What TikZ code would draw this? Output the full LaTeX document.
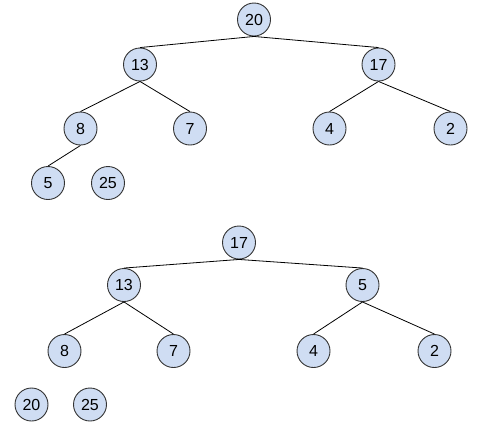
\documentclass[tikz,border=0pt]{standalone}
\usepackage{fontspec}
\setmainfont{Liberation Sans}
\definecolor{nodefill}{HTML}{CFDDF3}
\definecolor{nodeline}{HTML}{333333}
\begin{document}
\begin{tikzpicture}[x=1pt,y=-1pt,
  hnode/.style={circle,draw=nodeline,fill=nodefill,line width=0.9pt,minimum size=33pt,inner sep=0pt,font=\fontsize{16}{18}\selectfont},
  edge/.style={draw=black,line width=0.8pt}]
\useasboundingbox (0,0) rectangle (495,440);
% top tree
\node[hnode] (a20) at (254,19.5) {20};
\node[hnode] (a13) at (140,64.5) {13};
\node[hnode] (a17) at (378.5,64.5) {17};
\node[hnode] (a8) at (80.5,128.5) {8};
\node[hnode] (a7) at (190,128.5) {7};
\node[hnode] (a4) at (329.5,128.5) {4};
\node[hnode] (a2) at (450.5,128.5) {2};
\node[hnode] (a5) at (48,183) {5};
\node[hnode] (a25) at (108,183) {25};
\draw[edge] (a20.south) -- (a13.north);
\draw[edge] (a20.south) -- (a17.north);
\draw[edge] (a13.south) -- (a8.north);
\draw[edge] (a13.south) -- (a7.north);
\draw[edge] (a17.south) -- (a4.north);
\draw[edge] (a17.south) -- (a2.north);
\draw[edge] (a8.south) -- (a5.north);
% bottom tree
\node[hnode] (b17) at (239,242.5) {17};
\node[hnode] (b13) at (124,285) {13};
\node[hnode] (b5) at (362.5,285) {5};
\node[hnode] (b8) at (64.5,351) {8};
\node[hnode] (b7) at (173.5,351) {7};
\node[hnode] (b4) at (313.5,351) {4};
\node[hnode] (b2) at (434.5,351) {2};
\node[hnode] (b20) at (31.5,404.5) {20};
\node[hnode] (b25) at (90,404.5) {25};
\draw[edge] (b17.south) -- (b13.north);
\draw[edge] (b17.south) -- (b5.north);
\draw[edge] (b13.south) -- (b8.north);
\draw[edge] (b13.south) -- (b7.north);
\draw[edge] (b5.south) -- (b4.north);
\draw[edge] (b5.south) -- (b2.north);
\end{tikzpicture}
\end{document}
